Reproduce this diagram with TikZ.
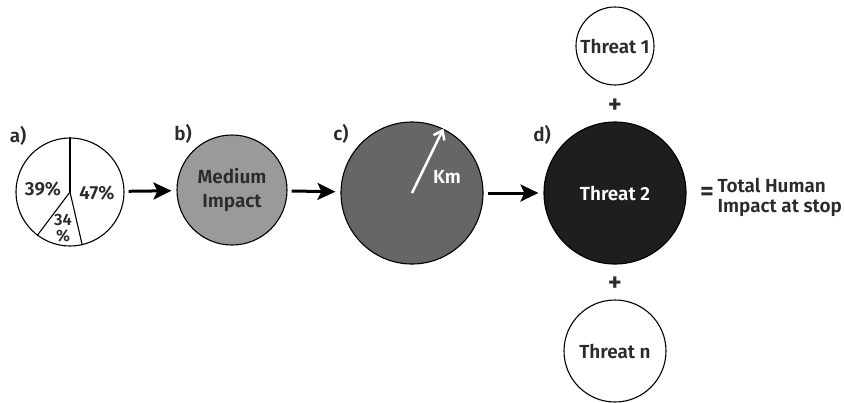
\documentclass[tikz,border=0pt]{standalone}
\usepackage{fontspec}
\setmainfont{Fira Sans}[BoldFont={Fira Sans SemiBold}]
\usepackage{xcolor}
\usetikzlibrary{arrows.meta}

\definecolor{inkgray}{HTML}{2B2B2B}
\definecolor{midgray}{HTML}{9A9A9A}
\definecolor{darkgray}{HTML}{666666}
\definecolor{nearblack}{HTML}{1E1E1E}

\begin{document}
\begin{tikzpicture}[x=1bp, y=-1bp,
  every node/.style={font=\fontsize{19}{22}\selectfont\bfseries, text=inkgray},
  disc/.style={circle, draw=black, line width=1.1bp, inner sep=0pt},
  flow/.style={-{Stealth[length=18bp, width=17bp, inset=4bp]}, line width=3bp, black,
    shorten <=4bp, shorten >=5bp},
  sign/.style={font=\fontsize{27}{27}\selectfont\bfseries},
  tag/.style={anchor=center}]
  \useasboundingbox (0,0) rectangle (844,402);

  % the pie of shares
  \node[disc, fill=white, minimum size=108bp] (pie) at (70,192) {};
  \draw[line width=1.1bp] (pie.center) -- (pie.90);
  \draw[line width=1.1bp] (pie.center) -- (pie.233);
  \draw[line width=1.1bp] (pie.center) -- (pie.283);
  \node (share39) at (43,189) {39\%};
  \node (share47) at (97,193) {47\%};
  \node[align=center, inner sep=0pt, font=\fontsize{16.5}{16}\selectfont\bfseries] (share34) at (63,228) {34\\\%};

  % the stages
  \node[disc, fill=midgray, minimum size=110bp, align=center,
    font=\fontsize{19}{24}\selectfont\bfseries] (medium) at (232,190) {Medium\\Impact};
  \node[disc, fill=darkgray, minimum size=142bp] (buffer) at (412,193) {};
  \node[disc, fill=nearblack, minimum size=142bp, text=white] (threat2) at (615,193) {Threat 2};

  % radius arrow
  \draw[white, line width=2.5bp, -{Straight Barb[length=8bp, width=12bp]}] (buffer.center) -- (buffer.64);
  \node[text=white] (km) at (447,177) {Km};

  % the other threats
  \node[disc, fill=white, minimum size=78bp] (threat1) at (615,46) {Threat 1};
  \node[disc, fill=white, minimum size=102bp] (threatn) at (615,351) {Threat n};
  \node[sign] (plusup) at (615,106) {+};
  \node[sign] (plusdown) at (615,284) {+};
  \node[sign] (equals) at (707,194) {=};
  \node[anchor=west, align=left, font=\fontsize{19}{20}\selectfont\bfseries] (total) at (714,197) {Total Human\\Impact at stop};

  % panel letters
  \node[tag] (tagA) at (18,136) {a)};
  \node[tag] (tagB) at (183,134) {b)};
  \node[tag] (tagC) at (341,134) {c)};
  \node[tag] (tagD) at (542,135) {d)};

  % arrows between stages
  \draw[flow] (pie) -- (medium);
  \draw[flow] (medium) -- (buffer);
  \draw[flow] (buffer) -- (threat2);
\end{tikzpicture}
\end{document}
